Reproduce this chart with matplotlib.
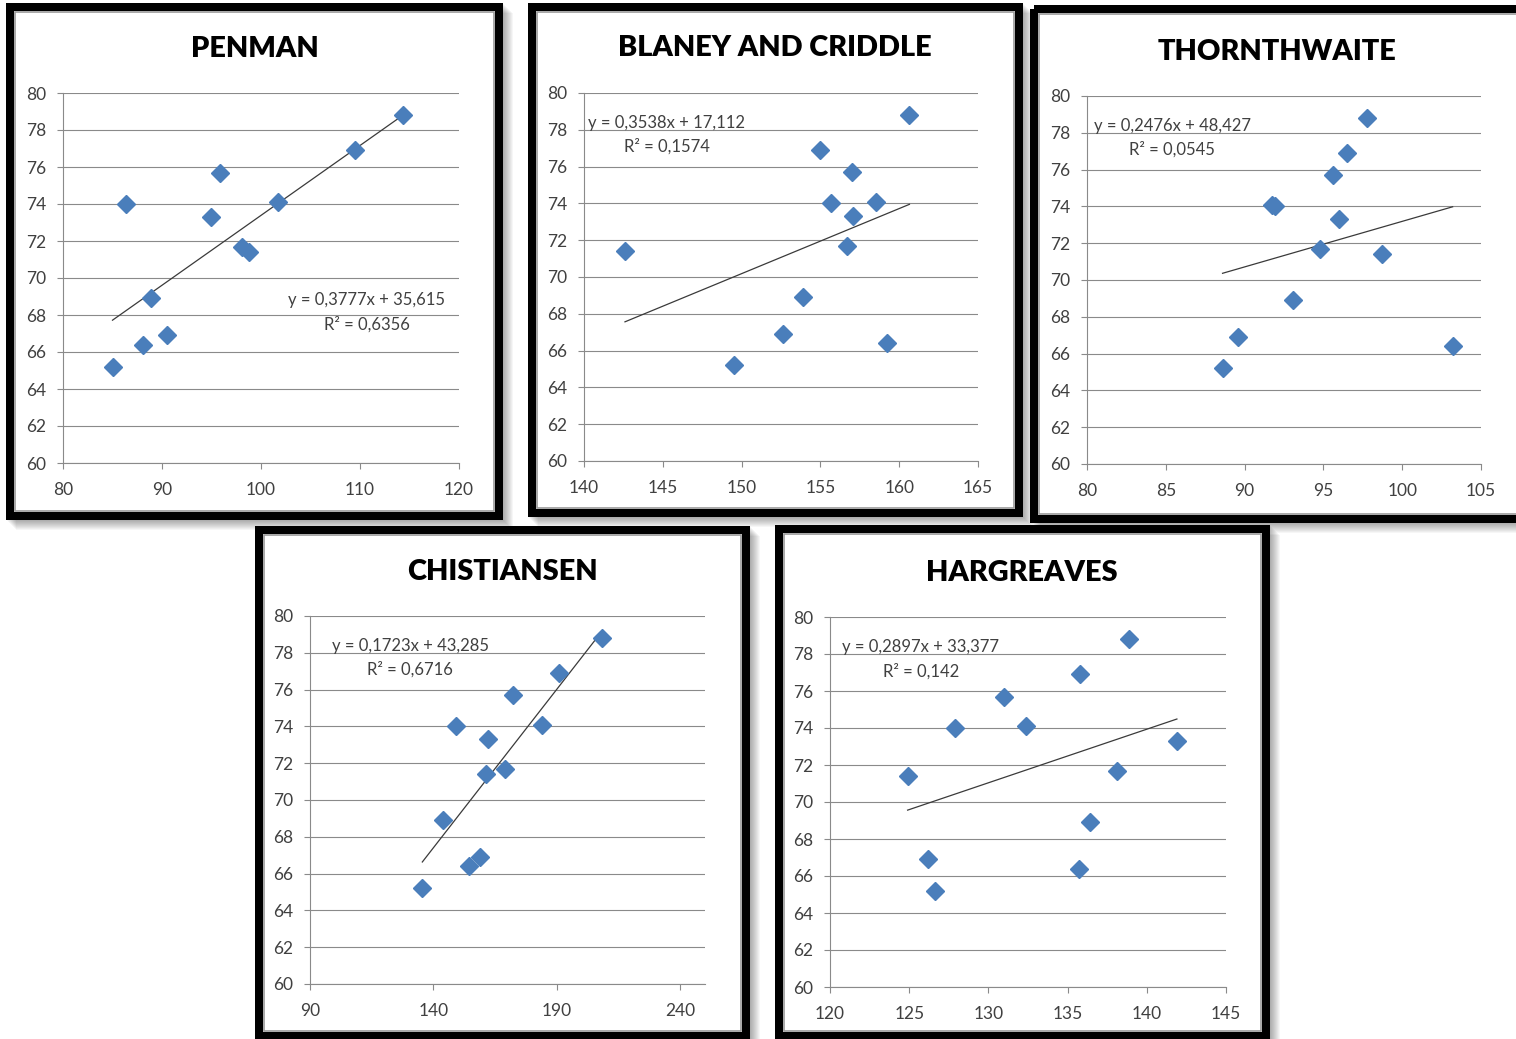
import matplotlib
matplotlib.use("Agg")
import matplotlib.pyplot as plt
from matplotlib.patches import Rectangle

# Observed values shared by every panel (y axis)
y_obs = [65.2, 66.4, 66.9, 68.9, 71.4, 71.7, 73.3, 74.0, 74.1, 75.7, 76.9, 78.8]

# Estimated values per method (x axis), same order as y_obs
x_penman = [85.0, 88.1, 90.5, 88.9, 98.8, 98.1, 94.9, 86.4, 101.7, 95.9, 109.5, 114.3]
x_blaney = [149.5, 159.25, 152.6, 153.9, 142.6, 156.7, 157.1, 155.7, 158.5, 157.0, 155.0, 160.65]
x_thorn = [88.6, 103.2, 89.6, 93.1, 98.7, 94.8, 96.0, 91.9, 91.75, 95.6, 96.5, 97.75]
x_christ = [135.5, 154.6, 158.9, 144.0, 161.3, 169.1, 162.1, 149.2, 184.1, 172.1, 190.9, 208.1]
x_harg = [126.6, 135.7, 126.2, 136.4, 124.9, 138.1, 141.9, 127.9, 132.35, 131.0, 135.8, 138.9]

titles = ["PENMAN", "BLANEY AND CRIDDLE", "THORNTHWAITE", "CHISTIANSEN", "HARGREAVES"]
slopes = [0.3777, 0.3538, 0.2476, 0.1723, 0.2897]
intercepts = [35.615, 17.112, 48.427, 43.285, 33.377]
eq_labels = ["y = 0,3777x + 35,615", "y = 0,3538x + 17,112", "y = 0,2476x + 48,427",
             "y = 0,1723x + 43,285", "y = 0,2897x + 33,377"]
r2_labels = ["R² = 0,6356", "R² = 0,1574", "R² = 0,0545", "R² = 0,6716", "R² = 0,142"]
x_ticks = [[80, 90, 100, 110, 120], [140, 145, 150, 155, 160, 165], [80, 85, 90, 95, 100, 105],
           [90, 140, 190, 240], [120, 125, 130, 135, 140, 145]]
x_limits = [(80, 120), (140, 165), (80, 105), (90, 250), (120, 145)]
y_ticks = list(range(60, 81, 2))

x_data = [x_penman, x_blaney, x_thorn, x_christ, x_harg]

W, H = 1516, 1039
fig = plt.figure(figsize=(W / 100, H / 100), dpi=100)
fig.patch.set_facecolor("white")

FONT = "Lato"
GRID = "#8a8a8a"
TXT = "#404040"
BLUE = "#4a7ebb"

# Background layer in pixel coordinates for frames, shadows and titles
bg = fig.add_axes([0, 0, 1, 1])
bg.set_xlim(0, W)
bg.set_ylim(H, 0)
bg.axis("off")
bg.set_zorder(0)

# Frame boxes (outer edges, px) and plot areas (left, top, right, bottom, px)
frames = [(6, 3, 503, 520), (528, 3, 1023, 517), (1030, 5, 1526, 523),
          (255, 526, 750, 1040), (775, 525, 1270, 1040)]
plot_areas = [(63, 93, 459, 463), (584, 93, 978, 461), (1087, 96, 1481, 464),
              (310, 616, 705, 984), (830, 617, 1226, 987)]
title_pos = [(255, 49), (775, 48), (1277, 52), (502, 572), (1022, 573)]
eq_pos = [(367, 300, 324), (667, 123, 146), (1172, 126, 149), (410, 646, 669), (921, 647, 671)]

BW = 8  # frame thickness in px

for (x0, y0, x1, y1) in frames:
    # soft drop shadow to the lower right
    for k in range(1, 11):
        bg.add_patch(Rectangle((x0 + k, y0 + k), x1 - x0, y1 - y0,
                               facecolor="black", edgecolor="none",
                               alpha=0.035, zorder=1))
    bg.add_patch(Rectangle((x0, y0), x1 - x0, y1 - y0, facecolor="white",
                           edgecolor="none", zorder=2))
    # thick black border
    bg.add_patch(Rectangle((x0 + BW / 2, y0 + BW / 2), x1 - x0 - BW, y1 - y0 - BW,
                           facecolor="none", edgecolor="black",
                           linewidth=BW * 0.72, zorder=3))
    # thin grey inner rim
    bg.add_patch(Rectangle((x0 + BW + 1, y0 + BW + 1), x1 - x0 - 2 * BW - 2, y1 - y0 - 2 * BW - 2,
                           facecolor="none", edgecolor="#9a9a9a",
                           linewidth=1.2, zorder=3))

for i in range(5):
    l, t, r, b = plot_areas[i]
    ax = fig.add_axes([l / W, 1 - b / H, (r - l) / W, (b - t) / H])
    ax.set_zorder(5)
    ax.patch.set_alpha(0)
    xs = x_data[i]
    ax.plot(xs, y_obs, linestyle="none", marker="D", markersize=9.5,
            color=BLUE, markeredgecolor=BLUE, zorder=4)
    xmin, xmax = min(xs), max(xs)
    ax.plot([xmin, xmax], [slopes[i] * xmin + intercepts[i], slopes[i] * xmax + intercepts[i]],
            color="#3a3a3a", linewidth=0.9, zorder=3)
    ax.set_xlim(*x_limits[i])
    ax.set_ylim(60, 80)
    ax.set_xticks(x_ticks[i])
    ax.set_yticks(y_ticks)
    ax.grid(axis="y", color=GRID, linewidth=0.8)
    ax.set_axisbelow(True)
    for s in ("top", "right"):
        ax.spines[s].set_visible(False)
    for s in ("left", "bottom"):
        ax.spines[s].set_color(GRID)
        ax.spines[s].set_linewidth(0.8)
    ax.tick_params(axis="both", direction="out", length=4, width=0.8, color=GRID,
                   labelcolor=TXT, labelsize=12.5)
    ax.tick_params(axis="x", pad=10)
    ax.tick_params(axis="y", pad=8)
    for lab in ax.get_xticklabels() + ax.get_yticklabels():
        lab.set_fontfamily(FONT)

    tx, ty = title_pos[i]
    bg.text(tx, ty, titles[i], ha="center", va="center", fontsize=20.8,
            fontweight="heavy", fontfamily=FONT, color="black", zorder=6)
    ex, ey1, ey2 = eq_pos[i]
    ax.text(ex, ey1, eq_labels[i], transform=bg.transData, ha="center", va="center",
            fontsize=12, fontfamily=FONT, color=TXT, zorder=6)
    ax.text(ex, ey2, r2_labels[i], transform=bg.transData, ha="center", va="center",
            fontsize=12, fontfamily=FONT, color=TXT, zorder=6)

fig.savefig("out.png", dpi=100, facecolor="white")
